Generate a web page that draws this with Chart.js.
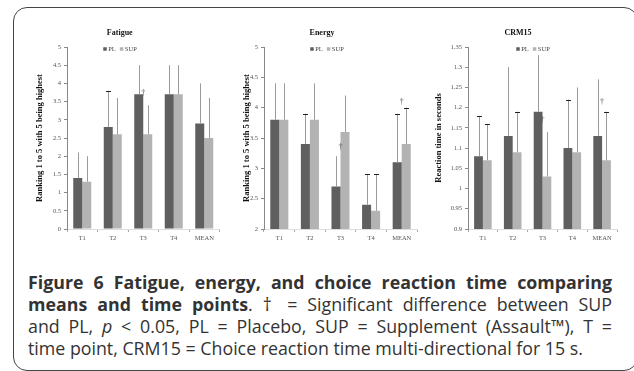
<!DOCTYPE html>
<html>
<head>
<meta charset="utf-8">
<script src="https://cdn.jsdelivr.net/npm/chart.js@4"></script>
<style>
html, body { margin: 0; padding: 0; background: #fff; overflow: hidden; }
body { position: relative; width: 634px; height: 371px; font-family: "Open Sans", sans-serif; }
.frame { position: absolute; left: 13px; top: 7px; width: 625px; height: 364px; border: 1.5px solid #444; border-radius: 14px; box-sizing: border-box; }
canvas { position: absolute; top: 15px; }
.cap { position: absolute; left: 28px; top: 271px; width: 584px; font-size: 17.8px; line-height: 22px; color: #333; }
.cap div { white-space: nowrap; text-align: justify; text-align-last: justify; }
.cap div.last { text-align-last: left; }
</style>
</head>
<body>
<div class="frame"></div>
<canvas id="fatigue" width="200" height="240" style="left:20px"></canvas>
<canvas id="energy" width="200" height="240" style="left:227px"></canvas>
<canvas id="crm" width="228" height="240" style="left:419px"></canvas>
<div class="cap">
<div><b>Figure 6 Fatigue, energy, and choice reaction time comparing</b></div>
<div><b>means and time points</b>. † = Significant difference between SUP</div>
<div>and PL, <i>p</i> &lt; 0.05, PL = Placebo, SUP = Supplement (Assault™), T =</div>
<div class="last">time point, CRM15 = Choice reaction time multi-directional for 15 s.</div>
</div>
<script>
const categories = ['T1', 'T2', 'T3', 'T4', 'MEAN']

// Fatigue (ranking 1 to 5)
const fatiguePL = [1.4, 2.8, 3.7, 3.7, 2.9]
const fatigueSUP = [1.3, 2.6, 2.6, 3.7, 2.5]
const fatiguePLTop = [2.1, 3.8, 4.5, 4.5, 4.0]     // top of error bar
const fatigueSUPTop = [2.0, 3.6, 3.4, 4.5, 3.6]
const fatiguePLCaps = [0, 1, 0, 0, 0]
const fatigueSUPCaps = [0, 0, 0, 0, 0]
const fatigueSig = [null, null, 3.75, null, null]

// Energy
const energyPL = [3.8, 3.4, 2.7, 2.4, 3.1]
const energySUP = [3.8, 3.8, 3.6, 2.3, 3.4]
const energyPLTop = [4.4, 3.9, 3.2, 2.9, 3.9]
const energySUPTop = [4.4, 4.4, 4.2, 2.9, 4.0]
const energyPLCaps = [0, 1, 0, 1, 1]
const energySUPCaps = [0, 0, 0, 1, 1]
const energySig = [null, null, 3.35, null, 4.1]

// CRM15 reaction time (s)
const crmPL = [1.08, 1.13, 1.19, 1.10, 1.13]
const crmSUP = [1.07, 1.09, 1.03, 1.09, 1.07]
const crmPLTop = [1.18, 1.30, 1.33, 1.22, 1.27]
const crmSUPTop = [1.16, 1.19, 1.14, 1.25, 1.19]
const crmPLCaps = [1, 0, 0, 1, 0]
const crmSUPCaps = [1, 1, 0, 0, 1]
const crmSig = [null, null, 1.17, null, 1.215]

const PL_COLOR = '#5f5f5f'
const SUP_COLOR = '#b3b3b3'
const SERIF = '"Liberation Serif", "Times New Roman", serif'

// upward-only error bars, some with a cap
const errorBars = {
    id: 'errorBars',
    afterDatasetsDraw(chart) {
        const ctx = chart.ctx
        const yScale = chart.scales.y
        chart.data.datasets.forEach((ds, i) => {
            const meta = chart.getDatasetMeta(i)
            meta.data.forEach((bar, j) => {
                const top = yScale.getPixelForValue(ds.errTop[j])
                const x = Math.round(bar.x) + 0.5
                ctx.save()
                ctx.strokeStyle = '#9a9a9a'
                ctx.lineWidth = 1
                ctx.beginPath()
                ctx.moveTo(x, bar.y)
                ctx.lineTo(x, top)
                ctx.stroke()
                if (ds.caps[j]) {
                    ctx.strokeStyle = '#222'
                    ctx.beginPath()
                    ctx.moveTo(x - 2.5, Math.round(top) + 0.5)
                    ctx.lineTo(x + 2.5, Math.round(top) + 0.5)
                    ctx.stroke()
                }
                ctx.restore()
            })
        })
    }
}

// small legend sitting inside the top of the plot, like the Excel one
const innerLegend = {
    id: 'innerLegend',
    afterDraw(chart) {
        const ctx = chart.ctx
        const box = 3.5, gap = 1.5, sep = 4
        ctx.save()
        ctx.font = '6.5px ' + SERIF
        const items = chart.data.datasets.map(d => ({ text: d.label, color: d.backgroundColor, w: ctx.measureText(d.label).width }))
        const total = items.reduce((s, it) => s + box + gap + it.w, 0) + sep * (items.length - 1)
        let x = chart.width / 2 - total / 2
        const y = chart.chartArea.top + 2
        ctx.textBaseline = 'middle'
        items.forEach(it => {
            ctx.fillStyle = it.color
            ctx.fillRect(x, y - box / 2, box, box)
            x += box + gap
            ctx.fillStyle = '#444'
            ctx.fillText(it.text, x, y)
            x += it.w + sep
        })
        ctx.restore()
    }
}

// significance daggers
const daggers = {
    id: 'daggers',
    afterDraw(chart) {
        const sig = chart.options.plugins.daggers.values
        const ctx = chart.ctx
        ctx.save()
        ctx.font = '8px ' + SERIF
        ctx.fillStyle = '#555'
        ctx.textAlign = 'center'
        ctx.textBaseline = 'middle'
        sig.forEach((v, i) => {
            if (v == null) return
            ctx.fillText('†', chart.scales.x.getPixelForValue(i), chart.scales.y.getPixelForValue(v))
        })
        ctx.restore()
    }
}

const makeChart = (id, title, yTitle, pl, sup, plTop, supTop, plCaps, supCaps, sig, yMin, yMax, step, plotLeft, padRight) => {
    const ctx = document.getElementById(id)
    new Chart(ctx, {
        type: 'bar',
        data: {
            labels: categories,
            datasets: [
                { label: 'PL', data: pl, backgroundColor: PL_COLOR, errTop: plTop, caps: plCaps },
                { label: 'SUP', data: sup, backgroundColor: SUP_COLOR, errTop: supTop, caps: supCaps }
            ]
        },
        options: {
            responsive: false,
            animation: false,
            devicePixelRatio: 1,
            categoryPercentage: 0.59,
            barPercentage: 1.0,
            layout: { padding: { left: 0, right: padRight, top: 0, bottom: 6 } },
            plugins: {
                legend: { display: false },
                tooltip: { enabled: false },
                title: {
                    display: true,
                    text: title,
                    color: '#111',
                    font: { family: SERIF, size: 8, weight: 'bold' },
                    padding: { top: 13.2, bottom: 9.2 }
                },
                daggers: { values: sig }
            },
            scales: {
                x: {
                    afterFit: s => { s.height = 20 },
                    grid: { offset: true, drawOnChartArea: false, tickLength: 3, color: '#aaa' },
                    border: { color: '#ddd' },
                    ticks: { color: '#555', padding: 2, font: { family: SERIF, size: 6.5 } }
                },
                y: {
                    min: yMin,
                    max: yMax,
                    afterFit: s => { s.width = plotLeft },
                    grid: { drawOnChartArea: false, tickLength: 3, color: '#888' },
                    border: { color: '#888' },
                    ticks: {
                        stepSize: step,
                        padding: 3,
                        color: '#555',
                        font: { family: SERIF, size: 6.5 },
                        callback: v => String(Math.round(v * 100) / 100)
                    },
                    title: {
                        display: true,
                        text: yTitle,
                        color: '#111',
                        font: { family: SERIF, size: 8.5, weight: 'bold' },
                        padding: { top: 14.9, bottom: 0 }
                    }
                }
            }
        },
        plugins: [errorBars, innerLegend, daggers]
    })
}

makeChart('fatigue', 'Fatigue', 'Ranking 1 to 5 with 5 being highest',
    fatiguePL, fatigueSUP, fatiguePLTop, fatigueSUPTop, fatiguePLCaps, fatigueSUPCaps, fatigueSig, 0, 5, 0.5, 47, 0.5)
makeChart('energy', 'Energy', 'Ranking 1 to 5 with 5 being highest',
    energyPL, energySUP, energyPLTop, energySUPTop, energyPLCaps, energySUPCaps, energySig, 2, 5, 0.5, 37, 10)
makeChart('crm', 'CRM15', 'Reaction time in seconds',
    crmPL, crmSUP, crmPLTop, crmSUPTop, crmPLCaps, crmSUPCaps, crmSig, 0.9, 1.35, 0.05, 49, 30)
</script>
</body>
</html>
